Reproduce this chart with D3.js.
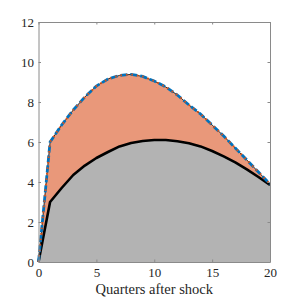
<!DOCTYPE html>
<html>
<head>
<meta charset="utf-8">
<script src="https://cdn.jsdelivr.net/npm/d3@7"></script>
<style>
  body { margin: 0; background: #fff; }
  svg { display: block; }
  .tick text { font-family: "Liberation Serif", "DejaVu Serif", serif; font-size: 13px; fill: #262626; }
</style>
</head>
<body>
<div id="chart"></div>
<script>
// quarters after shock and the two responses
var quarters = d3.range(0, 21);
var upper = [0, 6.0, 6.85, 7.6, 8.25, 8.8, 9.15, 9.33, 9.38, 9.28, 9.05, 8.75, 8.35, 7.85, 7.4, 6.85, 6.3, 5.7, 5.1, 4.5, 3.9];
var lower = [0, 3.0, 3.7, 4.35, 4.82, 5.2, 5.5, 5.78, 5.95, 6.05, 6.1, 6.1, 6.04, 5.94, 5.78, 5.55, 5.28, 4.98, 4.63, 4.25, 3.85];
var xTicks = [0, 5, 10, 15, 20];
var yTicks = [0, 2, 4, 6, 8, 10, 12];

var width = 299, height = 299;
var margin = {top: 22, right: 29, bottom: 37, left: 38.5};
var w = width - margin.left - margin.right,
    h = height - margin.top - margin.bottom;

var svg = d3.select("#chart").append("svg")
    .attr("width", width)
    .attr("height", height);
var g = svg.append("g").attr("transform", "translate(" + margin.left + "," + margin.top + ")");

var x = d3.scaleLinear().domain([0, 20]).range([0, w]);
var y = d3.scaleLinear().domain([0, 12]).range([h, 0]);

var data = quarters.map(function(q, i) { return {q: q, lo: lower[i], hi: upper[i]}; });

// orange band between the curves
g.append("path")
    .datum(data)
    .attr("fill", "#e9987a")
    .attr("d", d3.area()
        .x(function(d) { return x(d.q); })
        .y0(function(d) { return y(d.lo); })
        .y1(function(d) { return y(d.hi); }));

// grey area under the lower curve
g.append("path")
    .datum(data)
    .attr("fill", "#b3b3b3")
    .attr("d", d3.area()
        .x(function(d) { return x(d.q); })
        .y0(y(0))
        .y1(function(d) { return y(d.lo); }));

var lineHi = d3.line().x(function(d) { return x(d.q); }).y(function(d) { return y(d.hi); });
var lineLo = d3.line().x(function(d) { return x(d.q); }).y(function(d) { return y(d.lo); });

g.append("path").datum(data)
    .attr("fill", "none").attr("stroke", "#000").attr("stroke-width", 2.6)
    .attr("stroke-linejoin", "round")
    .attr("d", lineLo);

g.append("path").datum(data)
    .attr("fill", "none").attr("stroke", "#000").attr("stroke-width", 0.8)
    .attr("d", lineHi);
g.append("path").datum(data)
    .attr("fill", "none").attr("stroke", "#0072bd").attr("stroke-width", 2.8)
    .attr("stroke-dasharray", "7,3")
    .attr("d", lineHi);
g.append("path").datum(data)
    .attr("fill", "none").attr("stroke", "#d95319").attr("stroke-width", 2)
    .attr("stroke-dasharray", "1.5,4")
    .attr("d", lineHi);

// axes with inward ticks, box on all sides
var tl = 2.5;
g.append("g").attr("transform", "translate(0," + h + ")")
    .call(d3.axisBottom(x).tickValues(xTicks).tickSizeInner(-tl).tickSizeOuter(0).tickPadding(6));
g.append("g")
    .call(d3.axisTop(x).tickValues(xTicks).tickSizeInner(-tl).tickSizeOuter(0).tickFormat(""));
g.append("g")
    .call(d3.axisLeft(y).tickValues(yTicks).tickSizeInner(-tl).tickSizeOuter(0).tickPadding(4.5));
g.append("g").attr("transform", "translate(" + w + ",0)")
    .call(d3.axisRight(y).tickValues(yTicks).tickSizeInner(-tl).tickSizeOuter(0).tickFormat(""));

g.selectAll(".domain, .tick line").attr("stroke", "#8a8a8a").attr("stroke-width", 1);

svg.append("text")
    .attr("x", margin.left + w / 2)
    .attr("y", 294)
    .attr("text-anchor", "middle")
    .attr("font-family", "Liberation Serif, DejaVu Serif, serif")
    .attr("font-size", 14.5)
    .attr("fill", "#262626")
    .text("Quarters after shock");
</script>
</body>
</html>
